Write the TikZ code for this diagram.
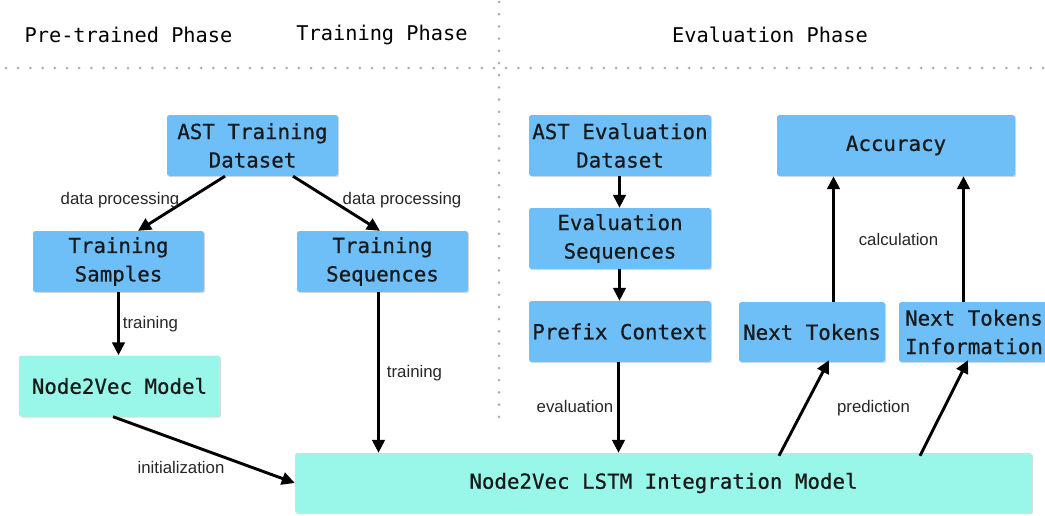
\documentclass[tikz,border=0pt]{standalone}
\usepackage{fontspec}
\setmainfont{Liberation Sans}
\newfontfamily\boxfont{DejaVu Sans Mono}
\newfontfamily\boxfontheavy[FakeBold=0.6]{DejaVu Sans Mono}
\usetikzlibrary{arrows.meta,shadows,calc}

\definecolor{boxblue}{RGB}{110,190,248}
\definecolor{boxcyan}{RGB}{152,247,232}
\definecolor{dotgray}{RGB}{175,175,175}

\tikzset{
  stage/.style={rectangle, rounded corners=2.5pt, align=center, inner sep=2pt,
    font=\boxfontheavy\fontsize{20.8}{28.5}\selectfont, text=black!90,
    drop shadow={opacity=0.28, shadow xshift=1.2pt, shadow yshift=-1.2pt}},
  bluebox/.style={stage, fill=boxblue},
  cyanbox/.style={stage, fill=boxcyan},
  phase/.style={font=\boxfont\fontsize{20.3}{24}\selectfont, text=black},
  lbl/.style={font=\fontsize{16.8}{20}\selectfont, text=black!85, inner sep=1pt},
  flow/.style={line width=2.9pt, -{Triangle[length=13pt,width=12.5pt]}},
  divider/.style={dotgray, line width=3pt, line cap=round, dash pattern=on 0pt off 12.2pt},
}

\begin{document}
\begin{tikzpicture}[x=1pt, y=-1pt]
\useasboundingbox (0,0) rectangle (1045,515);

% phase separators
\draw[divider] (6,68) -- (1045,68);
\draw[divider] (499,2) -- (499,428);

% phase titles
\node[phase] (ptitle) at (128.5,35) {Pre-trained Phase};
\node[phase] (ttitle) at (382,35) {Training Phase};
\node[phase] (etitle) at (770,35) {Evaluation Phase};

% training side
\node[bluebox, minimum width=171pt, minimum height=61pt] (ast) at (252.5,145.5) {AST Training\\Dataset};
\node[bluebox, minimum width=171pt, minimum height=61pt] (samp) at (118.5,261.5) {Training\\Samples};
\node[bluebox, minimum width=171pt, minimum height=61pt] (seqs) at (382.5,261.5) {Training\\Sequences};
\node[cyanbox, minimum width=201pt, minimum height=61pt] (n2v) at (119.5,386) {Node2Vec Model};
\node[cyanbox, minimum width=737pt, minimum height=60pt] (integ) at (663.5,483) {Node2Vec LSTM Integration Model};

% evaluation side
\node[bluebox, minimum width=182pt, minimum height=61pt] (aeval) at (620,145.5) {AST Evaluation\\Dataset};
\node[bluebox, minimum width=182pt, minimum height=61pt] (evseq) at (620,238.5) {Evaluation\\Sequences};
\node[bluebox, minimum width=182pt, minimum height=61pt] (prefix) at (620,331.5) {Prefix Context};
\node[bluebox, minimum width=238pt, minimum height=61pt] (acc) at (896,145.5) {Accuracy};
\node[bluebox, minimum width=146pt, minimum height=60pt] (nt) at (812,332) {Next Tokens};
\node[bluebox, minimum width=150pt, minimum height=60pt] (nti) at (974,332) {Next Tokens\\Information};

% connectors
\draw[flow] ([xshift=-27.5pt]ast.south) -- ([xshift=19.5pt]samp.north);
\draw[flow] ([xshift=40.5pt]ast.south) -- ([xshift=-2.5pt]seqs.north);
\draw[flow] (samp.south) -- (samp.south |- n2v.north);
\draw[flow] ([xshift=-4pt]seqs.south) -- ([xshift=-4pt]seqs.south |- integ.north);
\draw[flow] ([xshift=-6.5pt]n2v.south) -- (integ.west);
\draw[flow] ([xshift=-0.5pt]aeval.south) -- ([xshift=-0.5pt]evseq.north);
\draw[flow] ([xshift=-0.5pt]evseq.south) -- ([xshift=-0.5pt]prefix.north);
\draw[flow] ([xshift=-1.5pt]prefix.south) -- ([xshift=-1.5pt]prefix.south |- integ.north);
\draw[flow] ([xshift=115.5pt,yshift=-3pt]integ.north) -- ([xshift=17pt,yshift=2pt]nt.south);
\draw[flow] ([xshift=256.5pt,yshift=-3pt]integ.north) -- ([xshift=-6pt,yshift=2pt]nti.south);
\draw[flow] ([xshift=21.5pt]nt.north) -- ([xshift=21.5pt]nt.north |- acc.south);
\draw[flow] ([xshift=-10.5pt]nti.north) -- ([xshift=-10.5pt]nti.north |- acc.south);

% connector labels
\node[lbl] (dp1) at (120,200) {data processing};
\node[lbl] (dp2) at (402,200) {data processing};
\node[lbl] (tr1) at (150.5,324) {training};
\node[lbl] (tr2) at (414.5,373) {training};
\node[lbl] (init) at (181,467) {initialization};
\node[lbl] (eval) at (575,406) {evaluation};
\node[lbl] (pred) at (873.5,408) {prediction};
\node[lbl] (calc) at (898.5,239) {calculation};
\end{tikzpicture}
\end{document}
